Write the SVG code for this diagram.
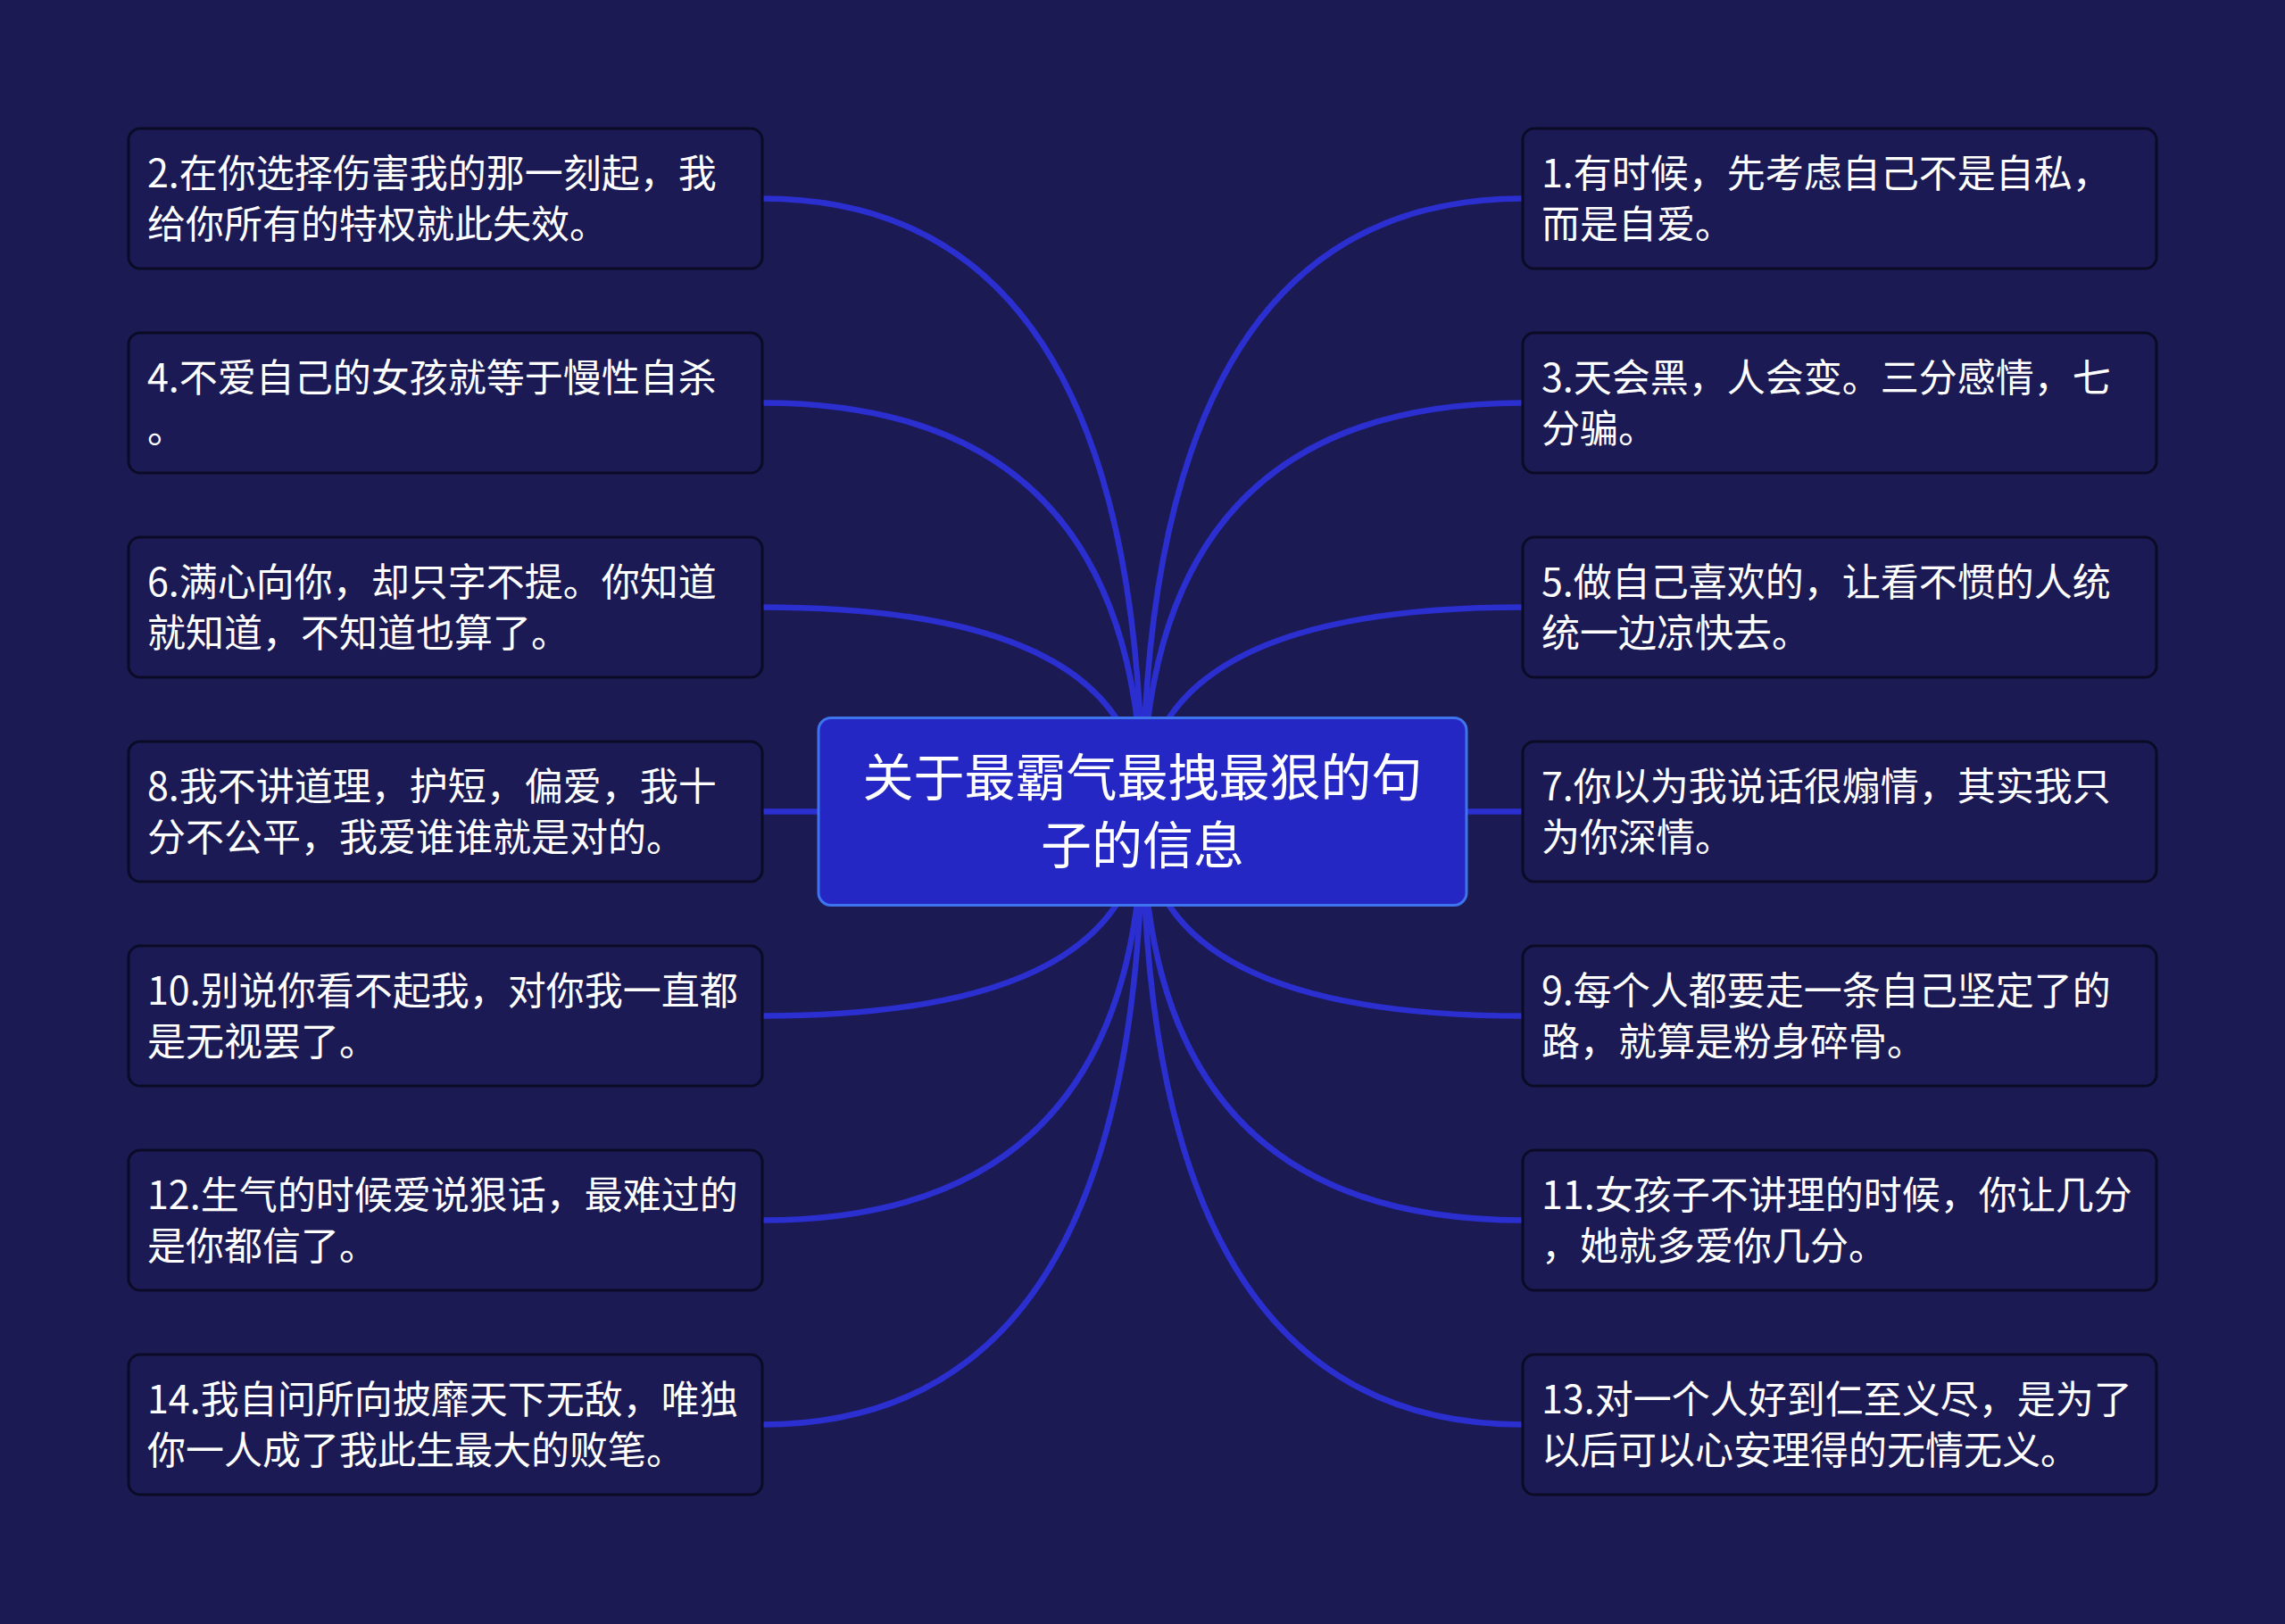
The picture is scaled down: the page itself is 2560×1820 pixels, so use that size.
<svg xmlns="http://www.w3.org/2000/svg" width="2560" height="1820" viewBox="0 0 2560 1820">
<style>
.bg{fill:#1b1a53}
.node rect{fill:#1b1a55;stroke:#0b0b26;stroke-width:3}
.node text{fill:#ffffff;font-family:"Noto Sans CJK SC","Noto Sans",sans-serif;font-size:43px}
.center rect{fill:#2427c4;stroke:#3e74ee;stroke-width:3}
.center text{fill:#ffffff;font-family:"Noto Sans CJK SC","Noto Sans",sans-serif;font-size:57px;text-anchor:middle}
.conn path{fill:none;stroke:#2b2fd0;stroke-width:6.5}
</style>
<rect class="bg" x="0" y="0" width="2560" height="1820"/>
<g id="connectors" class="conn">
<path d="M854 222.5 Q1280 222.5 1280 909.5"/>
<path d="M854 451.5 Q1280 451.5 1280 909.5"/>
<path d="M854 680.5 Q1280 680.5 1280 909.5"/>
<path d="M854 909.5 L1280 909.5"/>
<path d="M854 1138.5 Q1280 1138.5 1280 909.5"/>
<path d="M854 1367.5 Q1280 1367.5 1280 909.5"/>
<path d="M854 1596.5 Q1280 1596.5 1280 909.5"/>
<path d="M1706 222.5 Q1280 222.5 1280 909.5"/>
<path d="M1706 451.5 Q1280 451.5 1280 909.5"/>
<path d="M1706 680.5 Q1280 680.5 1280 909.5"/>
<path d="M1706 909.5 L1280 909.5"/>
<path d="M1706 1138.5 Q1280 1138.5 1280 909.5"/>
<path d="M1706 1367.5 Q1280 1367.5 1280 909.5"/>
<path d="M1706 1596.5 Q1280 1596.5 1280 909.5"/>
</g>
<g id="center" class="center">
<rect x="917" y="804.5" width="726" height="210" rx="14"/>
<text x="1280" y="892">关于最霸气最拽最狠的句</text>
<text x="1280" y="968">子的信息</text>
</g>
<g id="n1" class="node"><rect x="1706" y="144" width="710" height="157" rx="13"/><text x="1727" y="210">1.有时候，先考虑自己不是自私，</text><text x="1727" y="267">而是自爱。</text></g>
<g id="n2" class="node"><rect x="144" y="144" width="710" height="157" rx="13"/><text x="165" y="210">2.在你选择伤害我的那一刻起，我</text><text x="165" y="267">给你所有的特权就此失效。</text></g>
<g id="n3" class="node"><rect x="1706" y="373" width="710" height="157" rx="13"/><text x="1727" y="439">3.天会黑，人会变。三分感情，七</text><text x="1727" y="496">分骗。</text></g>
<g id="n4" class="node"><rect x="144" y="373" width="710" height="157" rx="13"/><text x="165" y="439">4.不爱自己的女孩就等于慢性自杀</text><text x="165" y="496">。</text></g>
<g id="n5" class="node"><rect x="1706" y="602" width="710" height="157" rx="13"/><text x="1727" y="668">5.做自己喜欢的，让看不惯的人统</text><text x="1727" y="725">统一边凉快去。</text></g>
<g id="n6" class="node"><rect x="144" y="602" width="710" height="157" rx="13"/><text x="165" y="668">6.满心向你，却只字不提。你知道</text><text x="165" y="725">就知道，不知道也算了。</text></g>
<g id="n7" class="node"><rect x="1706" y="831" width="710" height="157" rx="13"/><text x="1727" y="897">7.你以为我说话很煽情，其实我只</text><text x="1727" y="954">为你深情。</text></g>
<g id="n8" class="node"><rect x="144" y="831" width="710" height="157" rx="13"/><text x="165" y="897">8.我不讲道理，护短，偏爱，我十</text><text x="165" y="954">分不公平，我爱谁谁就是对的。</text></g>
<g id="n9" class="node"><rect x="1706" y="1060" width="710" height="157" rx="13"/><text x="1727" y="1126">9.每个人都要走一条自己坚定了的</text><text x="1727" y="1183">路，就算是粉身碎骨。</text></g>
<g id="n10" class="node"><rect x="144" y="1060" width="710" height="157" rx="13"/><text x="165" y="1126">10.别说你看不起我，对你我一直都</text><text x="165" y="1183">是无视罢了。</text></g>
<g id="n11" class="node"><rect x="1706" y="1289" width="710" height="157" rx="13"/><text x="1727" y="1355">11.女孩子不讲理的时候，你让几分</text><text x="1727" y="1412">，她就多爱你几分。</text></g>
<g id="n12" class="node"><rect x="144" y="1289" width="710" height="157" rx="13"/><text x="165" y="1355">12.生气的时候爱说狠话，最难过的</text><text x="165" y="1412">是你都信了。</text></g>
<g id="n13" class="node"><rect x="1706" y="1518" width="710" height="157" rx="13"/><text x="1727" y="1584">13.对一个人好到仁至义尽，是为了</text><text x="1727" y="1641">以后可以心安理得的无情无义。</text></g>
<g id="n14" class="node"><rect x="144" y="1518" width="710" height="157" rx="13"/><text x="165" y="1584">14.我自问所向披靡天下无敌，唯独</text><text x="165" y="1641">你一人成了我此生最大的败笔。</text></g>
</svg>
